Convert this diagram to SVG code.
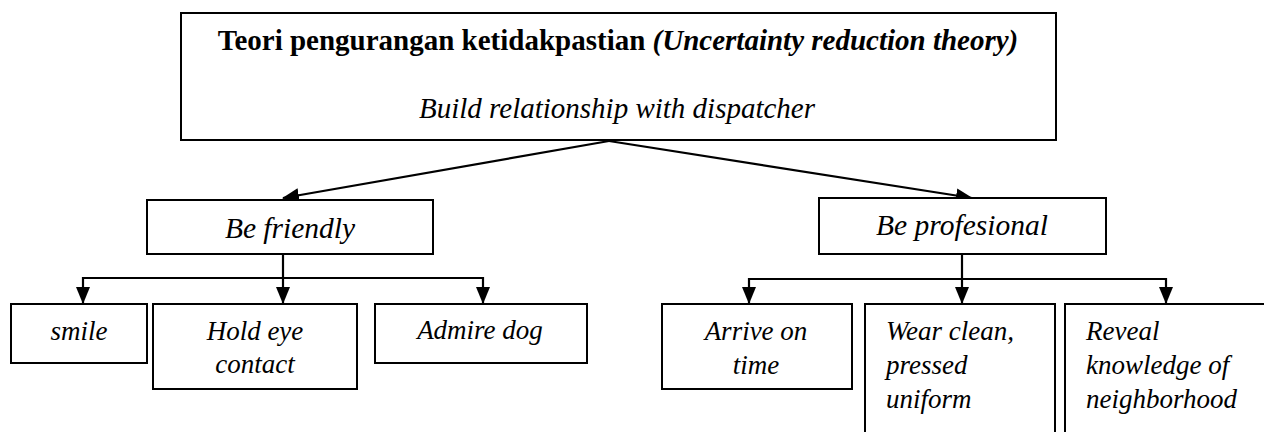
<svg xmlns="http://www.w3.org/2000/svg" width="1264" height="432" viewBox="0 0 1264 432">
<style>
.box{fill:#fff;stroke:#000;stroke-width:2}
.t{font-family:"Liberation Serif","Times New Roman",serif;font-size:27px;font-style:italic;fill:#000}
.h{font-size:29px}
.m{font-size:29.5px}
.c{text-anchor:middle}
.b{font-weight:bold;font-style:normal}
.ln{fill:none;stroke:#000;stroke-width:2.2}
</style>
<defs>
<marker id="ah" markerUnits="userSpaceOnUse" markerWidth="17" markerHeight="16" viewBox="0 0 17 16" refX="16" refY="8" orient="auto">
<path d="M0,1 L17,8 L0,15 Z" fill="#000"/>
</marker>
</defs>
<rect width="1264" height="432" fill="#fff"/>
<g id="connectors">
<path class="ln" d="M609,141 L283,198" marker-end="url(#ah)"/>
<path class="ln" d="M609,141 L972,198" marker-end="url(#ah)"/>
<path class="ln" d="M283,254 L283,303" marker-end="url(#ah)"/>
<path class="ln" d="M83,278 L483,278 L483,303" marker-end="url(#ah)"/>
<path class="ln" d="M83,277 L83,303" marker-end="url(#ah)"/>
<path class="ln" d="M962,254 L962,303" marker-end="url(#ah)"/>
<path class="ln" d="M749,279 L1166,279 L1166,303" marker-end="url(#ah)"/>
<path class="ln" d="M749,278 L749,303" marker-end="url(#ah)"/>
</g>
<g id="top">
<rect class="box" x="181" y="13" width="875" height="127"/>
<text class="t h c b" x="618" y="50">Teori pengurangan ketidakpastian <tspan font-style="italic">(Uncertainty reduction theory)</tspan></text>
<text class="t h c" x="617" y="118">Build relationship with dispatcher</text>
</g>
<g id="friendly">
<rect class="box" x="147" y="200" width="286" height="54"/>
<text class="t m c" x="290" y="238">Be friendly</text>
</g>
<g id="profesional">
<rect class="box" x="819" y="198" width="287" height="56"/>
<text class="t m c" x="962" y="235">Be profesional</text>
</g>
<g id="smile">
<rect class="box" x="11" y="304" width="136" height="59"/>
<text class="t c" x="79" y="340">smile</text>
</g>
<g id="holdeye">
<rect class="box" x="153" y="304" width="204" height="85"/>
<text class="t c" x="255" y="340">Hold eye</text>
<text class="t c" x="255" y="373">contact</text>
</g>
<g id="admire">
<rect class="box" x="375" y="304" width="212" height="59"/>
<text class="t c" x="480" y="339">Admire dog</text>
</g>
<g id="arrive">
<rect class="box" x="662" y="304" width="190" height="85"/>
<text class="t c" x="756" y="340">Arrive on</text>
<text class="t c" x="756" y="374">time</text>
</g>
<g id="wear">
<rect class="box" x="865" y="304" width="190" height="140"/>
<text class="t" x="886" y="340">Wear clean,</text>
<text class="t" x="886" y="374">pressed</text>
<text class="t" x="886" y="408">uniform</text>
</g>
<g id="reveal">
<rect class="box" x="1065" y="304" width="210" height="140"/>
<text class="t" x="1086" y="340">Reveal</text>
<text class="t" x="1086" y="374">knowledge of</text>
<text class="t" x="1086" y="408">neighborhood</text>
</g>
</svg>
